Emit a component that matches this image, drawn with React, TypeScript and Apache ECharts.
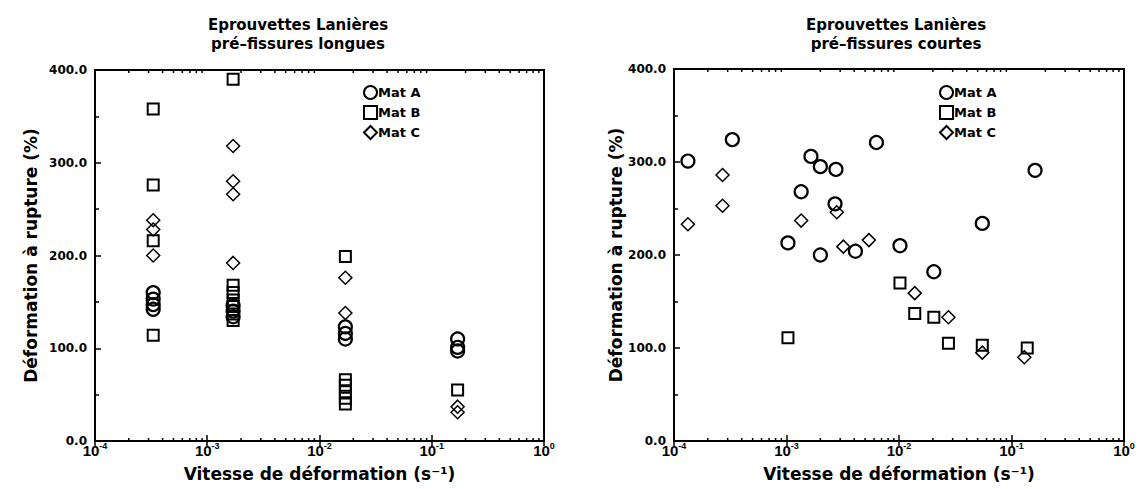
import React, { useEffect, useRef } from "react";
import * as echarts from "echarts";

// ---- Data (strain rate s^-1, strain at rupture %) ----
const xTicks = [1e-4, 1e-3, 1e-2, 1e-1, 1];
const yTicks = [0, 100, 200, 300, 400];
const minorMultipliers = [2, 3, 4, 5, 6, 7, 8, 9];
const minorDecades = [1e-4, 1e-3, 1e-2, 1e-1];

// Left: long pre-cracks
const longMatA: [number, number][] = [
  [3.3e-4, 160], [3.3e-4, 153], [3.3e-4, 147], [3.3e-4, 142],
  [1.7e-3, 146], [1.7e-3, 140], [1.7e-3, 134],
  [1.7e-2, 123], [1.7e-2, 116], [1.7e-2, 110],
  [1.7e-1, 110], [1.7e-1, 101], [1.7e-1, 97],
];
const longMatB: [number, number][] = [
  [3.3e-4, 358], [3.3e-4, 276], [3.3e-4, 216], [3.3e-4, 114],
  [1.7e-3, 390], [1.7e-3, 168], [1.7e-3, 160], [1.7e-3, 152], [1.7e-3, 145], [1.7e-3, 137], [1.7e-3, 130],
  [1.7e-2, 199], [1.7e-2, 66], [1.7e-2, 60], [1.7e-2, 53], [1.7e-2, 46], [1.7e-2, 40],
  [1.7e-1, 55],
];
const longMatC: [number, number][] = [
  [3.3e-4, 238], [3.3e-4, 228], [3.3e-4, 200],
  [1.7e-3, 318], [1.7e-3, 280], [1.7e-3, 266], [1.7e-3, 192],
  [1.7e-2, 176], [1.7e-2, 138],
  [1.7e-1, 37], [1.7e-1, 31],
];

// Right: short pre-cracks
const shortMatA: [number, number][] = [
  [1.33e-4, 301], [3.3e-4, 324], [1.03e-3, 213], [1.35e-3, 268], [1.65e-3, 306],
  [2.0e-3, 295], [2.0e-3, 200], [2.75e-3, 292], [2.7e-3, 255], [4.1e-3, 204],
  [6.3e-3, 321], [1.02e-2, 210], [2.04e-2, 182], [5.5e-2, 234], [1.62e-1, 291],
];
const shortMatB: [number, number][] = [
  [1.03e-3, 111], [1.02e-2, 170], [1.38e-2, 137], [2.04e-2, 133],
  [2.75e-2, 105], [5.5e-2, 103], [1.38e-1, 100],
];
const shortMatC: [number, number][] = [
  [1.33e-4, 233], [2.7e-4, 253], [2.7e-4, 286], [1.35e-3, 237], [2.8e-3, 246],
  [3.2e-3, 209], [5.4e-3, 216], [1.38e-2, 159], [2.75e-2, 133], [5.5e-2, 95], [1.3e-1, 90],
];

const seriesNames = ["Mat A", "Mat B", "Mat C"];
const titleMain = "Eprouvettes Lanières";
const subtitles = ["pré–fissures longues", "pré–fissures courtes"];
const yName = "Déformation à rupture (%)";
const xName = "Vitesse de déformation (s⁻¹)";

const FONT = '"DejaVu Sans", "Liberation Sans", Arial, sans-serif';
const TICKFONT = '"Liberation Sans", Arial, sans-serif';

const sup = (e: number) => (e < 0 ? "-" + -e : String(e));

function buildOption() {
  const grids = [
    { left: 95, top: 70, width: 449, height: 371 },
    { left: 674, top: 69, width: 450, height: 372 },
  ];
  const xAxes: any[] = [];
  const yAxes: any[] = [];
  grids.forEach((_, i) => {
    xAxes.push({
      type: "log",
      logBase: 10,
      min: xTicks[0],
      max: xTicks[xTicks.length - 1],
      gridIndex: i,
      axisLine: { show: true, onZero: false, lineStyle: { color: "#000", width: 2 } },
      axisTick: { inside: true, length: 6, lineStyle: { color: "#000", width: 1.5 } },
      splitLine: { show: false },
      axisLabel: {
        margin: 0,
        formatter: (v: number) => "{b|10}{s|" + sup(Math.round(Math.log10(v))) + "}",
        rich: {
          b: { fontSize: 15, fontWeight: "bold", fontFamily: TICKFONT, color: "#000" },
          s: { fontSize: 9, fontWeight: "bold", fontFamily: TICKFONT, color: "#000", padding: [0, 0, 9, 0] },
        },
      },
      name: xName,
      nameLocation: "middle",
      nameGap: 24,
      nameMoveOverlap: false,
      nameTextStyle: { fontSize: 17, fontWeight: "bold", fontFamily: FONT, color: "#000" },
    });
    // top mirror axis for ticks
    xAxes.push({
      type: "log",
      logBase: 10,
      min: xTicks[0],
      max: xTicks[xTicks.length - 1],
      gridIndex: i,
      position: "top",
      axisLine: { show: true, lineStyle: { color: "#000", width: 2 } },
      axisTick: { inside: true, length: 5, lineStyle: { color: "#000", width: 1.5 } },
      axisLabel: { show: false },
      splitLine: { show: false },
    });
    yAxes.push({
      type: "value",
      min: yTicks[0],
      max: yTicks[yTicks.length - 1],
      interval: 100,
      gridIndex: i,
      axisLine: { show: true, lineStyle: { color: "#000", width: 2 } },
      axisTick: { show: true, inside: true, length: 6, lineStyle: { color: "#000", width: 1.5 } },
      minorTick: { show: true, splitNumber: 2, length: 4, lineStyle: { color: "#000", width: 1.5 } },
      splitLine: { show: false },
      axisLabel: {
        margin: 8,
        formatter: (v: number) => v.toFixed(1),
        fontSize: 12,
        fontWeight: "bold",
        fontFamily: FONT,
        color: "#000",
      },
      name: yName,
      nameLocation: "middle",
      nameGap: i === 0 ? 56 : 42,
      nameTextStyle: { fontSize: 17, fontWeight: "bold", fontFamily: FONT, color: "#000" },
    });
  });

  const mk = (name: string, symbol: string, size: number, data: [number, number][], g: number, bw: number) => ({
    type: "scatter",
    name,
    xAxisIndex: g * 2,
    yAxisIndex: g,
    symbol,
    symbolSize: size,
    data,
    itemStyle: { color: "rgba(255,255,255,0)", borderColor: "#000", borderWidth: bw, opacity: 1 },
    emphasis: { disabled: true },
  });

  const minorData: [number, number][] = [];
  minorDecades.forEach((d) => minorMultipliers.forEach((m) => minorData.push([d * m, 0])));

  const minorSeries = (g: number) => ({
    type: "custom",
    name: "minor",
    xAxisIndex: g * 2,
    yAxisIndex: g,
    silent: true,
    data: minorData,
    renderItem: (_p: any, api: any) => {
      const v = api.value(0);
      const b = api.coord([v, yTicks[0]]);
      const t = api.coord([v, yTicks[yTicks.length - 1]]);
      return {
        type: "group",
        children: [
          { type: "line", shape: { x1: b[0], y1: b[1], x2: b[0], y2: b[1] - 3 }, style: { stroke: "#000", lineWidth: 1.5 } },
          { type: "line", shape: { x1: t[0], y1: t[1], x2: t[0], y2: t[1] + 3 }, style: { stroke: "#000", lineWidth: 1.5 } },
        ],
      };
    },
  });

  const series = [
    minorSeries(0),
    minorSeries(1),
    mk(seriesNames[0], "circle", 13, longMatA, 0, 2.2),
    mk(seriesNames[1], "rect", 11, longMatB, 0, 2),
    mk(seriesNames[2], "diamond", 13, longMatC, 0, 1.5),
    mk(seriesNames[0], "circle", 13, shortMatA, 1, 2.2),
    mk(seriesNames[1], "rect", 11, shortMatB, 1, 2),
    mk(seriesNames[2], "diamond", 13, shortMatC, 1, 1.5),
  ];

  const legendBase = () => ({
    orient: "vertical",
    top: 85,
    padding: 0,
    itemGap: 5,
    itemWidth: 13,
    itemHeight: 13,
    data: seriesNames,
    selectedMode: false,
    textStyle: { fontSize: 13, fontWeight: "bold", fontFamily: FONT, color: "#000", padding: [0, 0, 0, -4] },
  });

  const titleStyle = () => ({
    fontSize: 15,
    fontWeight: "bold",
    fontFamily: FONT,
    color: "#000",
    lineHeight: 19,
  });

  return {
    animation: false,
    backgroundColor: "#fff",
    title: [
      { text: titleMain + "\n" + subtitles[0], left: 293, top: 10, textAlign: "center", textStyle: titleStyle() },
      { text: titleMain + "\n" + subtitles[1], left: 891, top: 10, textAlign: "center", textStyle: titleStyle() },
    ],
    legend: [
      { ...legendBase(), left: 363 },
      { ...legendBase(), left: 939 },
    ],
    grid: grids.map((g) => ({ ...g, show: true, borderColor: "#000", borderWidth: 2, backgroundColor: "transparent" })),
    xAxis: xAxes,
    yAxis: yAxes,
    series,
  };
}

export default function App() {
  const ref = useRef<HTMLDivElement>(null);
  useEffect(() => {
    if (!ref.current) return;
    const chart = echarts.init(ref.current, undefined, { renderer: "svg" });
    chart.setOption(buildOption() as any);
    return () => chart.dispose();
  }, []);
  return (
    <div
      ref={ref}
      style={{ position: "fixed", left: 0, top: 0, width: 1138, height: 489, background: "#fff" }}
    />
  );
}
